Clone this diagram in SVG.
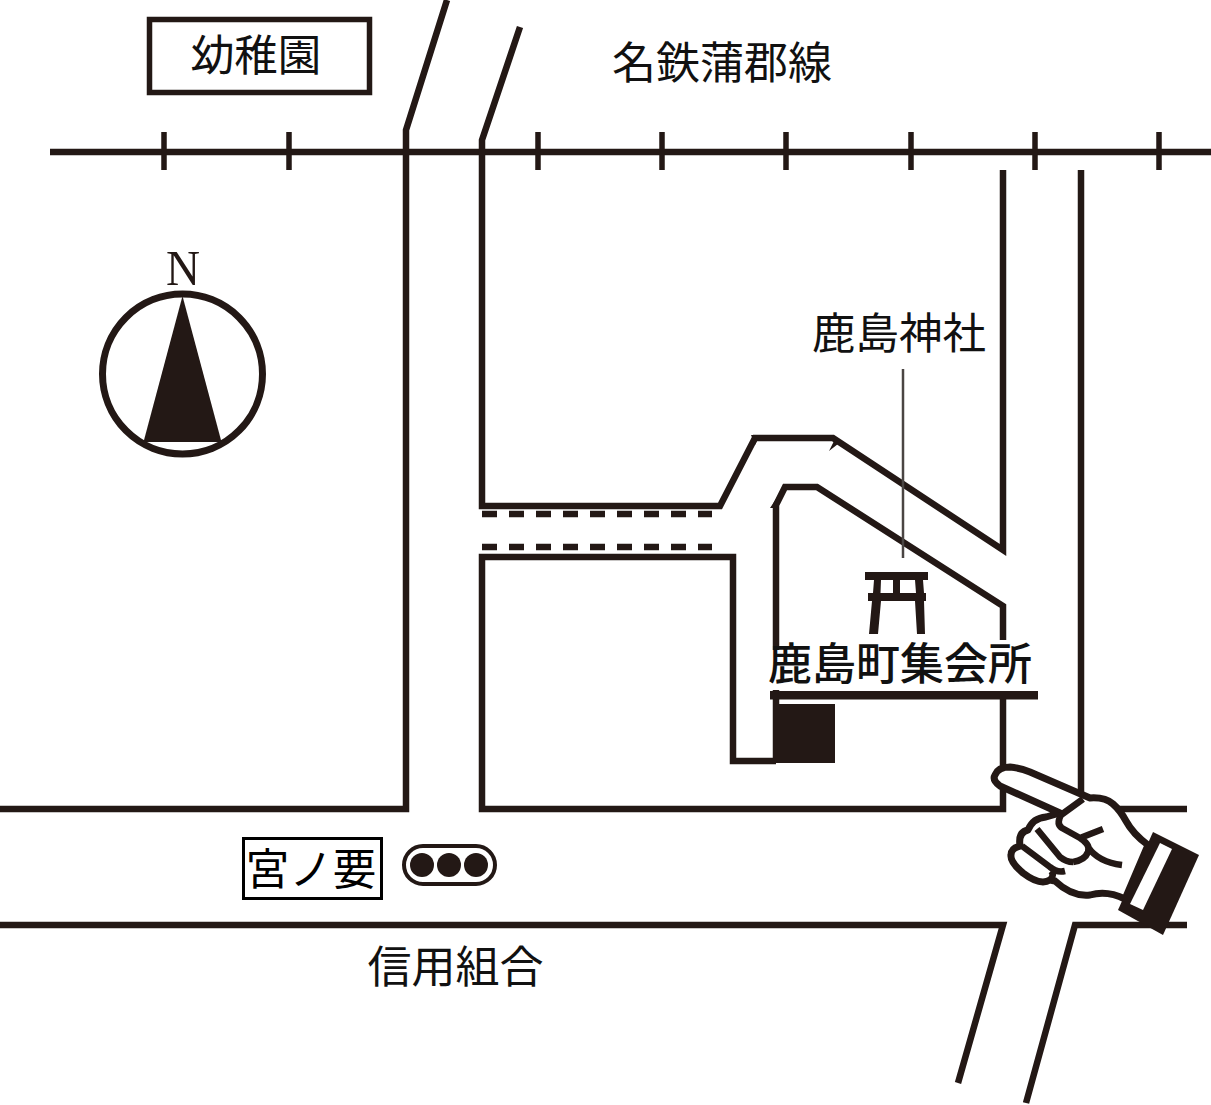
<svg xmlns="http://www.w3.org/2000/svg" width="1211" height="1105" viewBox="0 0 1211 1105">
<style>
.r{fill:none;stroke:#231815;stroke-width:6.500;stroke-linejoin:miter;stroke-linecap:butt}
.t{stroke-width:5.500}
.d{stroke-dasharray:15 12}
.k{fill:#231815;stroke:none}
.w{fill:#fff;stroke:#231815;stroke-width:7;stroke-linejoin:round;stroke-linecap:butt}
.n{fill:none;stroke:#231815;stroke-width:6.500;stroke-linejoin:round;stroke-linecap:butt}
.l{font-family:"Noto Sans CJK JP","Noto Sans",sans-serif;font-size:43.5px;fill:#111;text-anchor:middle}
</style>
<rect width="1211" height="1105" fill="#fff"/>
<g id="connectors">
<path class="r" d="M50 152H1211"/>
<path class="r t" d="M164 132V170M289 132V170M538 132V170M662 132V170M786 132V170M911 132V170M1035 132V170M1159 132V170"/>
<path class="r" d="M447 0L406 130V809H0"/>
<path class="r" d="M520 27L482 140V506H720L755 438H833L1003 550V170"/>
<path class="r d" d="M482 514H712M482 547H712"/>
<path class="r" d="M776 761H733V557H482V809H1003V695"/>
<path class="r" d="M776 650V505L785 487H817L1003 606V640"/>
<path class="r" d="M776 690V761"/>
<path class="r" d="M1081 170V800M1110 809H1187"/>
<path class="r" d="M0 925H1003L958 1083M1187 925H1075L1026 1103"/>
<path class="k" d="M770 508L778 496V508ZM829 451L836 437L838 444ZM751 435H760L755 445Z"/>
<path d="M903 369V558" fill="none" stroke="#4a4543" stroke-width="2.500"/>
</g>
<g id="kindergarten">
<rect x="149.500" y="19.500" width="220" height="73" fill="none" stroke="#231815" stroke-width="5.500"/>
<text class="l" x="256" y="70.500">幼稚園</text>
</g>
<g id="railway-label"><text class="l" x="722" y="78.500" style="font-size:44px">名鉄蒲郡線</text></g>
<g id="compass">
<text x="183" y="285" font-family="Liberation Serif,serif" font-size="50" text-anchor="middle" fill="#231815" textLength="34" lengthAdjust="spacingAndGlyphs">N</text>
<circle cx="182.500" cy="374" r="80" fill="none" stroke="#231815" stroke-width="7"/>
<path class="k" d="M182.500 296L221.500 442H143.500Z"/>
</g>
<g id="shrine-label"><text class="l" x="899" y="349">鹿島神社</text></g>
<g id="shrine">
<path class="k" fill-rule="evenodd" d="M865 572H928V580H923L924 593H926V601H924L925 634H917L915 601H881L878 634H869L872 601H868V593H873L874 580H865ZM881 580L880.500 593H893V580ZM900 580V593H916L915 580Z"/>
</g>
<g id="hall">
<text class="l" x="900" y="680" font-weight="500" style="font-size:44px">鹿島町集会所</text>
<rect x="770" y="691" width="268" height="8.500" fill="#231815"/>
<rect x="775" y="704" width="60" height="59" fill="#231815"/>
</g>
<g id="miyanokaname">
<rect x="243.500" y="838.500" width="138" height="60" fill="#fff" stroke="#000" stroke-width="3"/>
<text class="l" x="311" y="885" style="fill:#000">宮ノ要</text>
</g>
<g id="signal">
<rect x="404" y="846" width="91" height="38" rx="19" fill="#fff" stroke="#231815" stroke-width="4"/>
<circle class="k" cx="422" cy="865" r="12"/><circle class="k" cx="449" cy="865" r="12"/><circle class="k" cx="476" cy="865" r="12"/>
</g>
<g id="credit-union"><text class="l" x="455.500" y="983" style="font-size:44px">信用組合</text></g>
<g id="hand">
<path class="w" d="M1060 813L1000 786Q992 780 995 775Q998 767 1010 767Q1020 768 1030 772L1090 798Q1105 797 1113 804Q1120 810 1126 821Q1133 834 1148 845L1125 899Q1107 890 1090 895Q1072 897 1055 881L1050 880Q1040 886 1023 873Q1010 862 1011 855Q1011 848 1020 846Q1018 832 1028 830Q1033 818 1046 817Z"/>
<path class="n" d="M1083 799L1061 815Q1056 824 1062 828L1080 838L1103 829M1080 838Q1091 845 1088 852Q1085 860 1073 862M1088 847Q1098 862 1122 865M1037 829L1060 857Q1066 862 1073 862M1022 846L1050 867Q1057 873 1065 871M1050 880Q1055 875 1051 871"/>
<path class="k" d="M1153 832L1199 855L1163 935L1118 910Z"/>
<path fill="#fff" d="M1160 843L1172 849L1143 910L1130 904Z"/>
</g>
</svg>
